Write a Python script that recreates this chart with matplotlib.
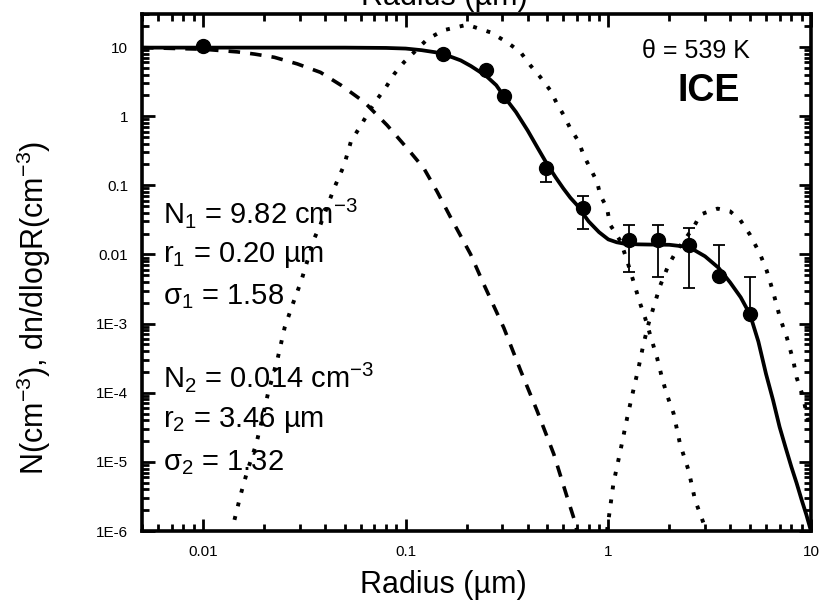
import numpy as np
import matplotlib.pyplot as plt
from matplotlib.ticker import LogLocator, FixedLocator, FixedFormatter, NullFormatter

plt.rcParams['font.family'] = ['Liberation Sans', 'DejaVu Sans']
plt.rcParams['mathtext.fontset'] = 'custom'
plt.rcParams['mathtext.rm'] = 'Liberation Sans'
plt.rcParams['mathtext.it'] = 'Liberation Sans'

# measured points (radius in um, N in cm^-3)
r_obs = [0.01, 0.152, 0.25, 0.305, 0.49, 0.75, 1.27, 1.76, 2.49, 3.53, 5.0]
n_obs = [10.3, 7.9, 4.7, 1.95, 0.18, 0.047, 0.0164, 0.0164, 0.0139, 0.0049, 0.00136]
# error bar ends (nan = no bar on that side)
bar_low = [np.nan, np.nan, np.nan, np.nan, 0.113, 0.0235, 0.0055, 0.0047, 0.0033, np.nan, np.nan]
bar_high = [np.nan, np.nan, np.nan, np.nan, np.nan, 0.069, 0.027, 0.027, 0.0245, 0.0139, 0.0047]

# cumulative fit (solid)
r_fit = [0.005, 0.05, 0.08, 0.1, 0.12, 0.14, 0.152, 0.17, 0.187, 0.21, 0.25, 0.28, 0.305,
         0.35, 0.4, 0.45, 0.5, 0.55, 0.6, 0.65, 0.7, 0.75, 0.8, 0.9, 1.0, 1.1, 1.2, 1.4,
         1.6, 2.0, 2.5, 3.0, 3.5, 4.0, 4.5, 5.0, 5.5, 6.0, 6.5, 7.0, 7.5, 8.0, 8.5, 9.0,
         9.5, 10.0]
n_fit = [9.8, 9.8, 9.7, 9.5, 9.0, 8.4, 7.9, 7.1, 6.4, 5.3, 3.8, 2.8, 1.95,
         1.15, 0.62, 0.34, 0.2, 0.13, 0.09, 0.066, 0.052, 0.039, 0.030, 0.021, 0.0165,
         0.0150, 0.0143, 0.0140, 0.0139, 0.0138, 0.0128, 0.0094, 0.0064, 0.0039, 0.0024,
         0.00136, 5.5e-4, 1.87e-4, 7.8e-5, 3.2e-5, 1.6e-5, 8.5e-6, 4.9e-6, 2.8e-6,
         1.7e-6, 1e-6]

# dashed curve
r_dash = [0.005, 0.01, 0.0148, 0.018, 0.0225, 0.0292, 0.038, 0.048, 0.0625, 0.081, 0.102,
          0.123, 0.143, 0.167, 0.209, 0.243, 0.305, 0.369, 0.445, 0.538, 0.626, 0.688, 0.70]
n_dash = [9.8, 9.3, 8.5, 7.9, 7.1, 5.7, 4.3, 2.8, 1.6, 0.74, 0.34, 0.176, 0.081, 0.034,
          0.0101, 0.0037, 8.7e-4, 2.1e-4, 5.5e-5, 1.3e-5, 3.1e-6, 1.3e-6, 1e-6]

# mode 1 dn/dlogR (dotted)
r_mode1 = [0.0143, 0.0154, 0.0166, 0.0183, 0.0197, 0.0209, 0.0234, 0.0253, 0.0277, 0.0305,
           0.0323, 0.0355, 0.038, 0.0443, 0.0497, 0.0537, 0.0602, 0.0672, 0.0728, 0.080,
           0.088, 0.098, 0.128, 0.154, 0.201, 0.262, 0.317, 0.369, 0.413, 0.462, 0.518,
           0.559, 0.603, 0.65, 0.714, 0.756, 0.815, 0.88, 0.913, 0.985, 1.02, 1.15, 1.24,
           1.33, 1.44, 1.52, 1.64, 1.74, 1.84, 1.94, 2.10, 2.26, 2.49, 2.68, 2.95]
n_mode1 = [1.45e-6, 3.5e-6, 7.6e-6, 1.8e-5, 4.4e-5, 9.6e-5, 3.2e-4, 8.8e-4, 1.9e-3, 4.1e-3,
           7.1e-3, 0.0173, 0.027, 0.09, 0.196, 0.43, 0.74, 1.28, 1.8, 2.63,
           4.1, 6.0, 13.0, 17.5, 21.0, 16.3, 11.7, 8.4, 5.4, 3.67, 2.35,
           1.5, 1.03, 0.66, 0.43, 0.27, 0.176, 0.112, 0.072, 0.047, 0.027, 0.0155, 0.0080,
           0.0041, 0.0019, 1.2e-3, 5.7e-4, 3.2e-4, 1.65e-4, 9.6e-5, 5.0e-5, 1.8e-5, 7.5e-6,
           2.8e-6, 1.3e-6]

# mode 2 dn/dlogR (dotted)
r_mode2 = [0.985, 1.06, 1.15, 1.24, 1.33, 1.41, 1.49, 1.58, 1.67, 1.80, 1.98, 2.18, 2.63,
           2.84, 3.0, 3.46, 3.99, 4.47, 5.0, 5.61, 6.05, 6.52, 7.04, 7.6, 8.18, 8.5, 9.15,
           9.5, 10.0]
n_mode2 = [1e-6, 4.9e-6, 1.5e-5, 4.4e-5, 1.1e-4, 2.3e-4, 5e-4, 1e-3, 1.7e-3, 3.5e-3, 7e-3,
           0.0115, 0.0244, 0.0375, 0.040, 0.046, 0.042, 0.0317, 0.0193, 0.0101, 0.0058,
           0.0028, 1.2e-3, 6.3e-4, 2.9e-4, 1.65e-4, 8.7e-5, 5e-5, 2.8e-5]

y_ticks = [1e-6, 1e-5, 1e-4, 1e-3, 0.01, 0.1, 1, 10]
y_labels = ['1E-6', '1E-5', '1E-4', '1E-3', '0.01', '0.1', '1', '10']
x_ticks = [0.01, 0.1, 1, 10]
x_labels = ['0.01', '0.1', '1', '10']

fig = plt.figure(figsize=(8.24, 6.02), dpi=100)
ax = fig.add_axes([0.1723, 0.1179, 0.8119, 0.8588])

ax.plot(r_fit, n_fit, color='black', lw=2.7, solid_joinstyle='round')
ax.plot(r_dash, n_dash, color='black', lw=2.6, linestyle=(0, (3.2, 2.8)))
ax.plot(r_mode1, n_mode1, color='black', lw=2.8, linestyle=(0, (1, 2.6)))
ax.plot(r_mode2, n_mode2, color='black', lw=2.8, linestyle=(0, (1, 2.6)))

# error bars, lower and upper halves drawn separately
r_arr = np.array(r_obs)
n_arr = np.array(n_obs)
lo = n_arr - np.array(bar_low)
hi = np.array(bar_high) - n_arr
has_lo = ~np.isnan(lo)
has_hi = ~np.isnan(hi)
ax.errorbar(r_arr[has_lo], n_arr[has_lo], yerr=[lo[has_lo], np.zeros(has_lo.sum())],
            fmt='none', ecolor='black', elinewidth=1.3, capsize=4.5, capthick=1.3)
ax.errorbar(r_arr[has_hi], n_arr[has_hi], yerr=[np.zeros(has_hi.sum()), hi[has_hi]],
            fmt='none', ecolor='black', elinewidth=1.3, capsize=4.5, capthick=1.3)
ax.plot(r_obs, n_obs, 'o', color='black', ms=10, zorder=5)

ax.set_xscale('log')
ax.set_yscale('log')
ax.set_xlim(0.005, 10)
ax.set_ylim(1e-6, 30)

ax.xaxis.set_major_locator(FixedLocator(x_ticks))
ax.xaxis.set_major_formatter(FixedFormatter(x_labels))
ax.xaxis.set_minor_locator(LogLocator(base=10, subs=np.arange(2, 10), numticks=20))
ax.xaxis.set_minor_formatter(NullFormatter())
ax.yaxis.set_major_locator(FixedLocator(y_ticks))
ax.yaxis.set_major_formatter(FixedFormatter(y_labels))
ax.yaxis.set_minor_locator(LogLocator(base=10, subs=np.arange(2, 10), numticks=20))
ax.yaxis.set_minor_formatter(NullFormatter())

ax.tick_params(which='both', direction='in', top=True, right=True, width=2, labelsize=11)
ax.tick_params(which='major', length=9, pad=10)
ax.tick_params(which='minor', length=5)
for sp in ax.spines.values():
    sp.set_linewidth(2.6)

ax.set_xlabel('Radius (\u00b5m)', fontsize=22)
ax.xaxis.set_label_coords(0.451, -0.075)
ax.set_ylabel('N(cm$^{-3}$), dn/dlogR(cm$^{-3}$)', fontsize=22)
ax.yaxis.set_label_coords(-0.133, 0.432)

# top axis title, cut off by the figure edge
fig.text(0.539, 1 - 5 / 602, 'Radius (\u00b5m)', fontsize=22, ha='center', va='baseline')

ax.text(0.747, 0.928, '\u03b8 = 539 K', transform=ax.transAxes, fontsize=18,
        ha='left', va='center')
ax.text(0.800, 0.851, 'ICE', transform=ax.transAxes, fontsize=27, fontweight='bold',
        ha='left', va='center')

params = ['N$_1$ = 9.82 cm$^{-3}$', 'r$_1$ = 0.20 \u00b5m', '\u03c3$_1$ = 1.58',
          'N$_2$ = 0.014 cm$^{-3}$', 'r$_2$ = 3.46 \u00b5m', '\u03c3$_2$ = 1.32']
ys = [213, 255, 297, 377, 420, 463]
for txt, yp in zip(params, ys):
    fig.text(163 / 824, 1 - yp / 602, txt, fontsize=21, ha='left', va='center')

plt.savefig('out.png', dpi=100)
